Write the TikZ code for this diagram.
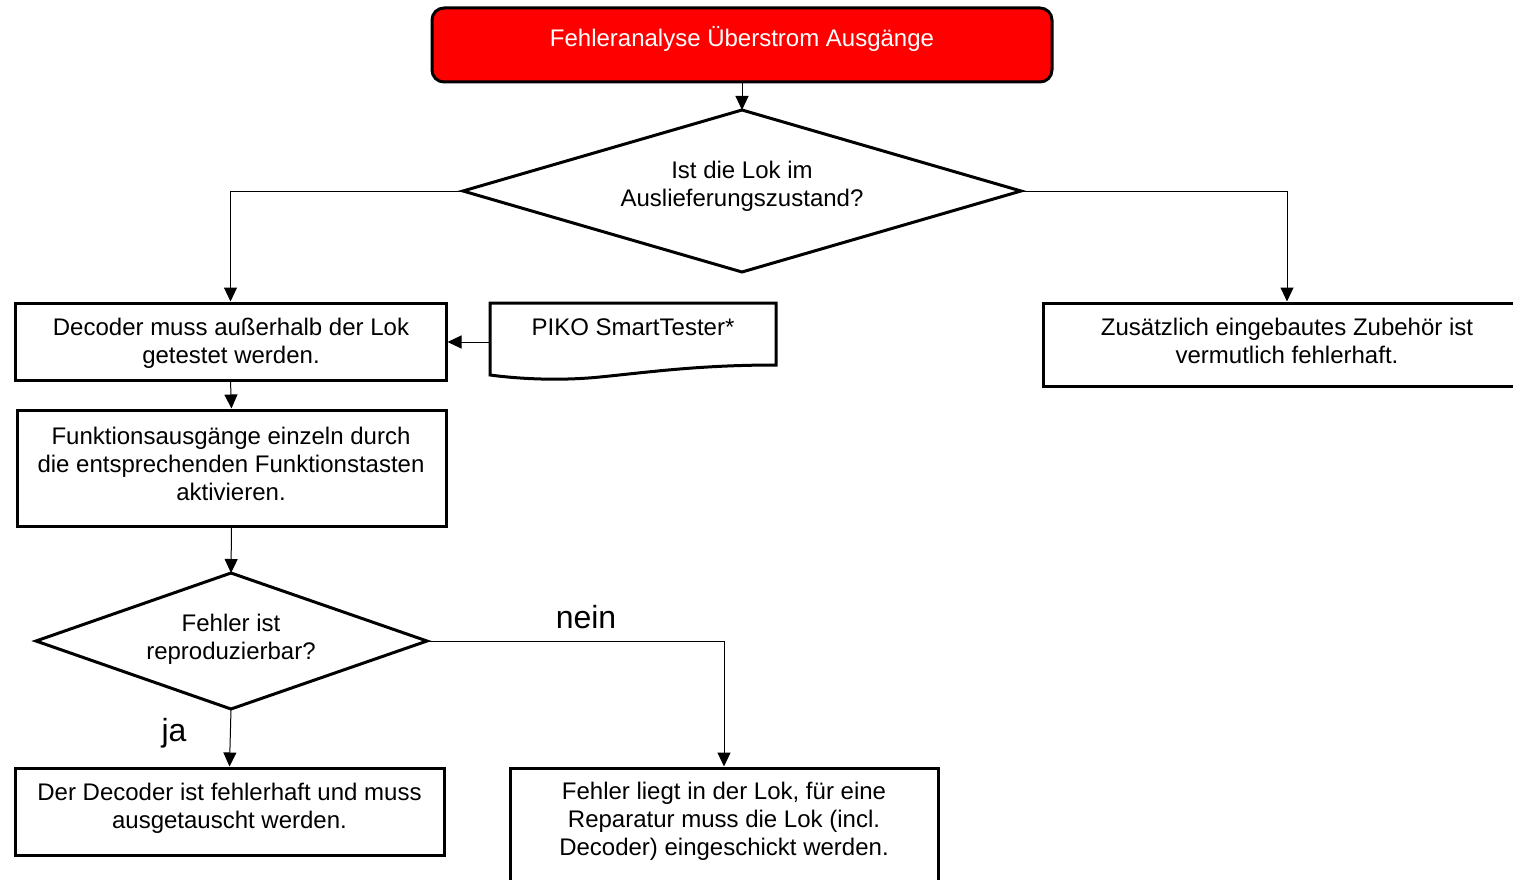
\documentclass[tikz,border=0pt]{standalone}
\usepackage{fontspec}
\setmainfont{Liberation Sans}
\usetikzlibrary{arrows.meta}
\begin{document}
\begin{tikzpicture}[x=1pt,y=-1pt,
  box/.style={draw=black,line width=3pt,fill=white,inner sep=0pt},
  txt/.style={align=center,inner sep=0pt,font=\fontsize{24}{28}\selectfont},
  conn/.style={draw=black,line width=1pt,-{Triangle[length=14pt,width=13pt]}},
  dia/.style={draw=black,line width=3pt,line join=miter,fill=white},
  lbl/.style={inner sep=0pt,font=\fontsize{32}{36}\selectfont}]
\useasboundingbox (0,0) rectangle (1513,880);
\clip (0,0) rectangle (1513,880);
% title
\node[box,fill=red,rounded corners=12pt,minimum width=620pt,minimum height=74pt] (title) at (742,45) {};
\node[txt,text=white] (titlet) at (742,39) {Fehleranalyse Überstrom Ausgänge};
% diamond 1
\coordinate (d1t) at (742,110);
\coordinate (d1b) at (742,272);
\coordinate (d1l) at (463,191);
\coordinate (d1r) at (1021,191);
\draw[dia] (d1t) -- (d1r) -- (d1b) -- (d1l) -- cycle;
\node[txt] (d1) at (742,186) {Ist die Lok im\\Auslieferungszustand?};
% box1
\node[box,minimum width=431pt,minimum height=77pt] (b1) at (230.5,341.5) {};
\node[txt] (b1t) at (231,343) {Decoder muss außerhalb der Lok\\getestet werden.};
% piko document
\draw[line width=3pt,fill=white] (490,303) -- (776,303) -- (776,365) .. controls (700,365) and (650,372) .. (600,377) .. controls (560,381) and (520,379) .. (490,375) -- cycle;
\node[inner sep=0pt,minimum width=286pt,minimum height=70pt] (piko) at (633,342) {};
\node[txt] (pikot) at (633,327) {PIKO SmartTester*};
% box2
\node[box,minimum width=429pt,minimum height=116pt] (b2) at (231.5,468) {};
\node[txt] (b2t) at (231,463.5) {Funktionsausgänge einzeln durch\\die entsprechenden Funktionstasten\\aktivieren.};
% right box
\node[box,minimum width=488pt,minimum height=83pt] (br) at (1287,344.5) {};
\node[txt] (brt) at (1287,341) {Zusätzlich eingebautes Zubehör ist\\vermutlich fehlerhaft.};
% diamond 2
\coordinate (d2t) at (231,573);
\coordinate (d2b) at (231,709);
\coordinate (d2l) at (36,641);
\coordinate (d2r) at (427,641);
\draw[dia] (d2t) -- (d2r) -- (d2b) -- (d2l) -- cycle;
\node[txt] (d2) at (231,639.5) {Fehler ist\\reproduzierbar?};
% bottom boxes
\node[box,minimum width=429pt,minimum height=87pt] (bl) at (229.5,811.5) {};
\node[txt] (blt) at (229.5,808) {Der Decoder ist fehlerhaft und muss\\ausgetauscht werden.};
\node[box,minimum width=428pt,minimum height=124pt] (bb) at (724,830) {};
\node[txt] (bbt) at (724,821) {Fehler liegt in der Lok, für eine\\Reparatur muss die Lok (incl.\\Decoder) eingeschickt werden.};
% connectors
\draw[conn] (title.south) -- (d1t);
\draw[conn] (d1l) -| (b1.north);
\draw[conn] (d1r) -| (br.north);
\draw[conn] (piko.west) -- (piko.west -| b1.east);
\draw[conn] (b1.south) -- (b2.north);
\draw[conn] (b2.south) -- (d2t);
\draw[conn] (d2r) -| (bb.north);
\draw[conn] (d2b) -- (bl.north);
% labels
\node[lbl] (nein) at (586,617) {nein};
\node[lbl] (ja) at (174,733) {ja};
\end{tikzpicture}
\end{document}
